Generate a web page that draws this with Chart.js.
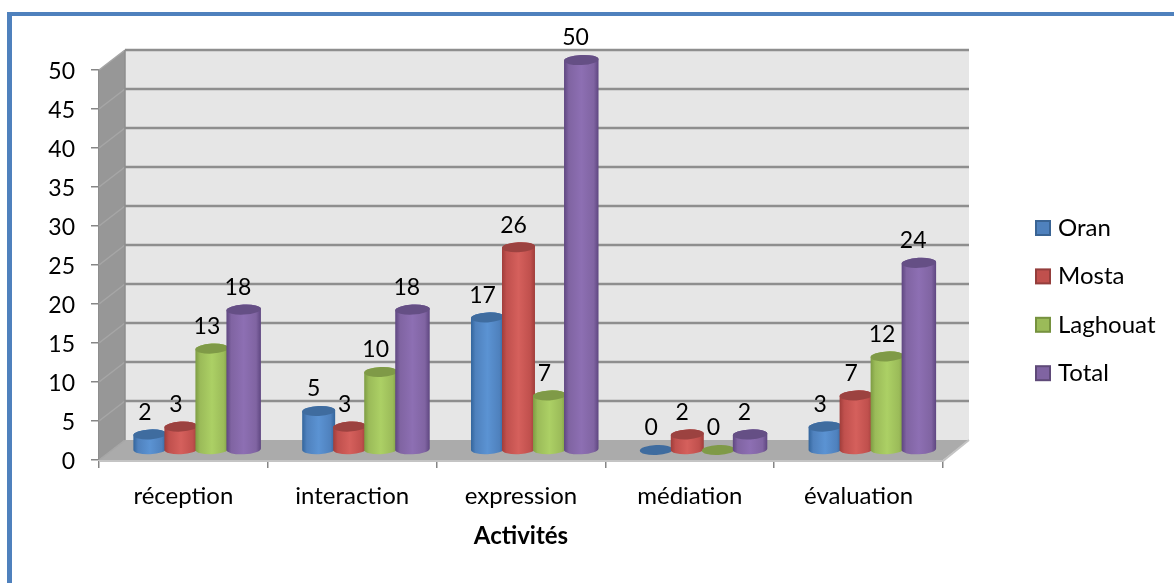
<!DOCTYPE html>
<html lang="fr">
<head>
    <meta charset="UTF-8">
    <title>Activités par wilaya</title>
    <script src="https://cdn.jsdelivr.net/npm/chart.js"></script>
    <style>
        html, body { margin: 0; padding: 0; background: #fff; overflow: hidden; }
        #frame {
            position: absolute;
            left: 7px;
            top: 12px;
            width: 1167px;
            height: 571px;
            box-sizing: border-box;
            border-top: 4px solid #4f81bd;
            border-left: 5px solid #4f81bd;
        }
        #wrap { position: absolute; left: 0; top: 0; width: 1174px; height: 583px; }
    </style>
</head>
<body>
    <div id="frame"></div>
    <div id="wrap"><canvas id="activitesChart"></canvas></div>

    <script>
        const categories = ['réception', 'interaction', 'expression', 'médiation', 'évaluation'];
        const oran = [2, 5, 17, 0, 3];
        const mosta = [3, 3, 26, 2, 7];
        const laghouat = [13, 10, 7, 0, 12];
        const total = [18, 18, 50, 2, 24];
        const seriesNames = ['Oran', 'Mosta', 'Laghouat', 'Total'];
        const yTicks = [0, 5, 10, 15, 20, 25, 30, 35, 40, 45, 50];

        // [face, border, dark edge, light centre, cap]
        const palette = [
            ['#4f81bd', '#3a6494', '#33659c', '#5b93d3', '#3f6c9f'],
            ['#c0504d', '#943e3c', '#a03d3a', '#d5605c', '#9c4240'],
            ['#9bbb59', '#76923f', '#7d9c43', '#acd065', '#7f9a47'],
            ['#8064a2', '#5f4a79', '#5e4680', '#8d6fb3', '#654f85']
        ];

        const FONT = 'Lato, Carlito, sans-serif';
        const DEPTH_X = 26, DEPTH_Y = 20;   // back wall offset from the front plane
        const GRID = '#8e8e8e';

        // walls and floor of the 3D box, sits behind the bars
        function drawBox(chart) {
            const { ctx } = chart;
            const xs = chart.scales.x, ys = chart.scales.y;
            const l = xs.left, r = xs.right;
            const y0 = ys.getPixelForValue(0), yMax = ys.getPixelForValue(50);

            ctx.save();
            ctx.fillStyle = '#e6e6e6';
            ctx.fillRect(l + DEPTH_X, yMax - DEPTH_Y, r - l, y0 - yMax);

            ctx.fillStyle = '#979797';
            ctx.beginPath();
            ctx.moveTo(l, yMax);
            ctx.lineTo(l + DEPTH_X, yMax - DEPTH_Y);
            ctx.lineTo(l + DEPTH_X, y0 - DEPTH_Y);
            ctx.lineTo(l, y0);
            ctx.closePath();
            ctx.fill();

            ctx.fillStyle = '#ababab';
            ctx.beginPath();
            ctx.moveTo(l, y0);
            ctx.lineTo(l + DEPTH_X, y0 - DEPTH_Y);
            ctx.lineTo(r + DEPTH_X, y0 - DEPTH_Y);
            ctx.lineTo(r, y0);
            ctx.closePath();
            ctx.fill();

            // gridlines on the back wall and the slanted part on the left wall
            yTicks.forEach(v => {
                const py = ys.getPixelForValue(v);
                if (v > 0) {
                    ctx.strokeStyle = GRID;
                    ctx.lineWidth = 2.5;
                    ctx.beginPath();
                    ctx.moveTo(l + DEPTH_X, py - DEPTH_Y);
                    ctx.lineTo(r + DEPTH_X, py - DEPTH_Y);
                    ctx.stroke();
                }
                ctx.strokeStyle = '#a6a6a6';
                ctx.lineWidth = 1.5;
                ctx.beginPath();
                ctx.moveTo(l, py);
                ctx.lineTo(l + DEPTH_X, py - DEPTH_Y);
                ctx.stroke();
            });

            ctx.strokeStyle = GRID;
            ctx.lineWidth = 1.5;
            ctx.beginPath();
            ctx.moveTo(l + DEPTH_X, yMax - DEPTH_Y);
            ctx.lineTo(l + DEPTH_X, y0 - DEPTH_Y);
            ctx.stroke();

            // lighter edge round the floor
            ctx.strokeStyle = '#c4c4c4';
            ctx.lineWidth = 2;
            ctx.beginPath();
            ctx.moveTo(l, y0 + 1);
            ctx.lineTo(r, y0 + 1);
            ctx.lineTo(r + DEPTH_X, y0 - DEPTH_Y);
            ctx.stroke();
            ctx.restore();
        }

        function drawCylinder(ctx, bar, colors, extra) {
            const cx = bar.x + DEPTH_X / 2 + extra / 2;
            const top = bar.y - DEPTH_Y / 2;
            const bottom = bar.base - DEPTH_Y / 2;
            const rx = bar.width / 2 + 1 + extra / 2;
            const ry = 5, tilt = -0.05;

            ctx.save();
            if (bottom - top > 0.5) {
                const grad = ctx.createLinearGradient(cx - rx, 0, cx + rx, 0);
                grad.addColorStop(0, colors[2]);
                grad.addColorStop(0.14, colors[0]);
                grad.addColorStop(0.5, colors[3]);
                grad.addColorStop(0.86, colors[0]);
                grad.addColorStop(1, colors[2]);
                ctx.fillStyle = grad;
                ctx.beginPath();
                ctx.ellipse(cx, top, rx, ry, tilt, Math.PI, 0, false);
                ctx.ellipse(cx, bottom, rx, ry, tilt, 0, Math.PI, false);
                ctx.closePath();
                ctx.fill();
            }
            ctx.fillStyle = colors[4];
            ctx.beginPath();
            ctx.ellipse(cx, top, rx, ry, tilt, 0, Math.PI * 2);
            ctx.fill();
            ctx.restore();
        }

        const cylinderPlugin = {
            id: 'cylinders',
            beforeDatasetsDraw(chart) {
                const { ctx } = chart;
                drawBox(chart);
                chart.data.datasets.forEach((ds, i) => {
                    // the last series sits a touch wider in the perspective
                    const extra = i === 3 ? 1.5 : 0;
                    chart.getDatasetMeta(i).data.forEach(bar => drawCylinder(ctx, bar, palette[i], extra));
                });
                ctx.save();
                ctx.font = '23px ' + FONT;
                ctx.fillStyle = '#000';
                ctx.textAlign = 'center';
                ctx.textBaseline = 'middle';
                chart.data.datasets.forEach((ds, i) => {
                    chart.getDatasetMeta(i).data.forEach((bar, j) => {
                        ctx.fillText(String(ds.data[j]), bar.x + DEPTH_X / 2 - 5, bar.y - DEPTH_Y / 2 - 22);
                    });
                });
                ctx.restore();
                return false;   // the default flat bars are not wanted
            },
            afterDraw(chart) {
                // legend column to the right of the box
                const { ctx } = chart;
                ctx.save();
                ctx.font = '24px ' + FONT;
                ctx.textBaseline = 'middle';
                seriesNames.forEach((name, i) => {
                    const y = 228 + i * 48.4;
                    ctx.fillStyle = palette[i][0];
                    ctx.strokeStyle = palette[i][1];
                    ctx.lineWidth = 2;
                    ctx.fillRect(1036, y - 7, 14, 14);
                    ctx.strokeRect(1036, y - 7, 14, 14);
                    ctx.fillStyle = '#000';
                    ctx.fillText(name, 1058, y);
                });
                ctx.restore();
            }
        };

        const seriesValues = [oran, mosta, laghouat, total];

        new Chart(document.getElementById('activitesChart'), {
            type: 'bar',
            data: {
                labels: categories,
                datasets: seriesNames.map((name, i) => ({
                    label: name,
                    data: seriesValues[i],
                    backgroundColor: palette[i][0],
                    barPercentage: 1,
                    categoryPercentage: 0.735
                }))
            },
            options: {
                responsive: true,
                maintainAspectRatio: false,
                animation: false,
                layout: { padding: { top: 70, right: 231, bottom: 28 } },
                plugins: {
                    tooltip: { enabled: false },
                    legend: { display: false }
                },
                scales: {
                    x: {
                        afterFit(s) { s.height = 95; },
                        border: { color: '#c4c4c4', width: 1 },
                        grid: { drawOnChartArea: false, color: '#868686', tickLength: 8, lineWidth: 1.5 },
                        ticks: { color: '#000', padding: 14, maxRotation: 0, font: { family: FONT, size: 24 } },
                        title: { display: true, text: 'Activités', color: '#000', font: { family: FONT, size: 24, weight: 'bold' } }
                    },
                    y: {
                        min: 0,
                        max: 50,
                        afterFit(s) { s.width = 99; },
                        afterBuildTicks(s) { s.ticks = yTicks.map(v => ({ value: v })); },
                        border: { color: '#8e8e8e', width: 1.5 },
                        grid: { drawOnChartArea: false, color: '#868686', tickLength: 8, lineWidth: 1.5 },
                        ticks: { color: '#000', padding: 16, labelOffset: 2, font: { family: FONT, size: 23 } }
                    }
                }
            },
            plugins: [cylinderPlugin]
        });
    </script>
</body>
</html>
